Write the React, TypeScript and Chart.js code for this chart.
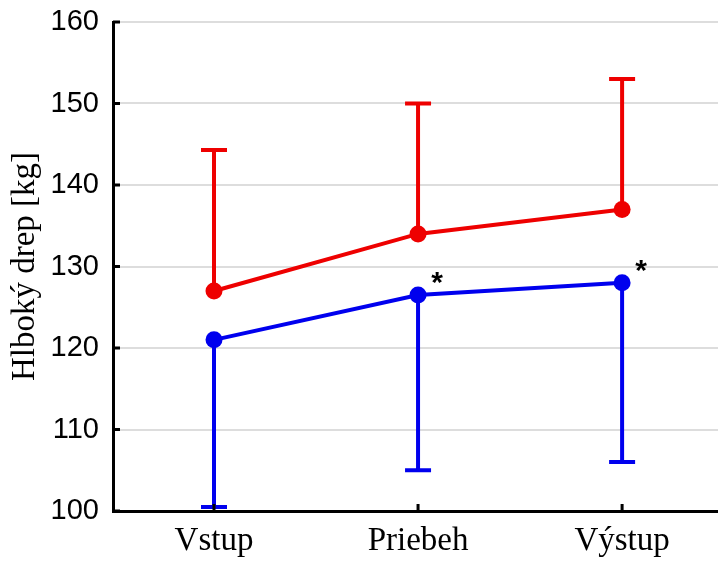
import React, { useEffect, useRef } from "react";
import { Chart, registerables } from "chart.js";

Chart.register(...registerables);

const categories = ["Vstup", "Priebeh", "Výstup"];
const redMeans = [127, 134, 137];
const redUpper = [144.3, 150, 153];
const blueMeans = [121, 126.5, 128];
const blueLower = [100.5, 105, 106];
const blueMarks = ["", "*", "*"];
const yTicks = [100, 110, 120, 130, 140, 150, 160];

const RED = "#ee0000";
const BLUE = "#0000ee";

const overlay = {
  id: "overlay",
  beforeDatasetsDraw(chart: any) {
    const ctx = chart.ctx;
    const xs = chart.scales.x;
    const ys = chart.scales.y;
    const cap = 13;
    ctx.save();
    ctx.lineWidth = 4;
    const drawBar = (i: number, from: number, to: number, color: string) => {
      const x = xs.getPixelForValue(i);
      const y1 = ys.getPixelForValue(from);
      const y2 = ys.getPixelForValue(to);
      ctx.strokeStyle = color;
      ctx.beginPath();
      ctx.moveTo(x, y1);
      ctx.lineTo(x, y2);
      ctx.moveTo(x - cap, y2);
      ctx.lineTo(x + cap, y2);
      ctx.stroke();
    };
    categories.forEach((_, i) => {
      drawBar(i, redMeans[i], redUpper[i], RED);
      drawBar(i, blueMeans[i], blueLower[i], BLUE);
    });
    ctx.restore();
  },
  afterDraw(chart: any) {
    const ctx = chart.ctx;
    const xs = chart.scales.x;
    const ys = chart.scales.y;
    const area = chart.chartArea;
    ctx.save();
    ctx.strokeStyle = "#000";
    ctx.lineWidth = 3;
    ctx.beginPath();
    yTicks.forEach((v) => {
      const y = ys.getPixelForValue(v);
      ctx.moveTo(area.left, y);
      ctx.lineTo(area.left + 7, y);
    });
    categories.forEach((_, i) => {
      const x = xs.getPixelForValue(i);
      ctx.moveTo(x, area.bottom);
      ctx.lineTo(x, area.bottom - 7);
    });
    ctx.stroke();
    ctx.fillStyle = "#000";
    ctx.font = "bold 30px 'Liberation Sans'";
    ctx.textAlign = "center";
    ctx.textBaseline = "middle";
    blueMarks.forEach((m, i) => {
      if (!m) return;
      const x = xs.getPixelForValue(i);
      const y = ys.getPixelForValue(blueMeans[i]);
      ctx.fillText(m, x + 19, y - 11);
    });
    ctx.restore();
  },
};

export default function App() {
  const ref = useRef<HTMLCanvasElement>(null);
  useEffect(() => {
    const canvas = ref.current;
    if (!canvas) return;
    const chart = new Chart(canvas, {
      type: "line",
      data: {
        datasets: [
          {
            data: redMeans.map((v, i) => ({ x: i, y: v })),
            borderColor: RED,
            backgroundColor: RED,
            borderWidth: 4,
            pointRadius: 8.5,
            pointBorderWidth: 0,
          },
          {
            data: blueMeans.map((v, i) => ({ x: i, y: v })),
            borderColor: BLUE,
            backgroundColor: BLUE,
            borderWidth: 4,
            pointRadius: 8.5,
            pointBorderWidth: 0,
          },
        ],
      },
      options: {
        responsive: false,
        animation: false,
        layout: { autoPadding: false, padding: { top: 22, right: 0, left: 0, bottom: 0 } },
        plugins: {
          legend: { display: false },
          tooltip: { enabled: false },
        },
        scales: {
          x: {
            type: "linear",
            min: -0.495,
            max: 2.47,
            afterFit: (s: any) => {
              s.height = 50;
              s.paddingLeft = 0;
              s.paddingRight = 0;
            },
            afterBuildTicks: (s: any) => {
              s.ticks = categories.map((_, i) => ({ value: i }));
            },
            ticks: {
              callback: (v: any) => categories[v] ?? "",
              color: "#000",
              font: { family: "'Liberation Serif'", size: 33 },
              padding: 11,
              maxRotation: 0,
            },
            grid: { display: false, drawTicks: false },
            border: { color: "#000", width: 3 },
          },
          y: {
            min: 100,
            max: 160,
            afterFit: (s: any) => {
              s.width = 113;
              s.paddingTop = 0;
              s.paddingBottom = 0;
            },
            afterBuildTicks: (s: any) => {
              s.ticks = yTicks.map((v) => ({ value: v }));
            },
            ticks: {
              color: "#000",
              font: { family: "'Liberation Sans'", size: 29 },
              padding: 14,
            },
            grid: { color: "#dddddd", lineWidth: 2, drawTicks: false },
            border: { color: "#000", width: 3 },
            title: {
              display: true,
              text: "Hlboký drep [kg]",
              color: "#000",
              font: { family: "'Liberation Serif'", size: 33 },
              padding: { top: 6, bottom: 0 },
            },
          },
        },
      },
      plugins: [overlay],
    });
    return () => chart.destroy();
  }, []);
  return (
    <div style={{ position: "absolute", left: 0, top: 0, width: 718, height: 561, background: "#fff" }}>
      <canvas ref={ref} width={718} height={561} />
    </div>
  );
}
